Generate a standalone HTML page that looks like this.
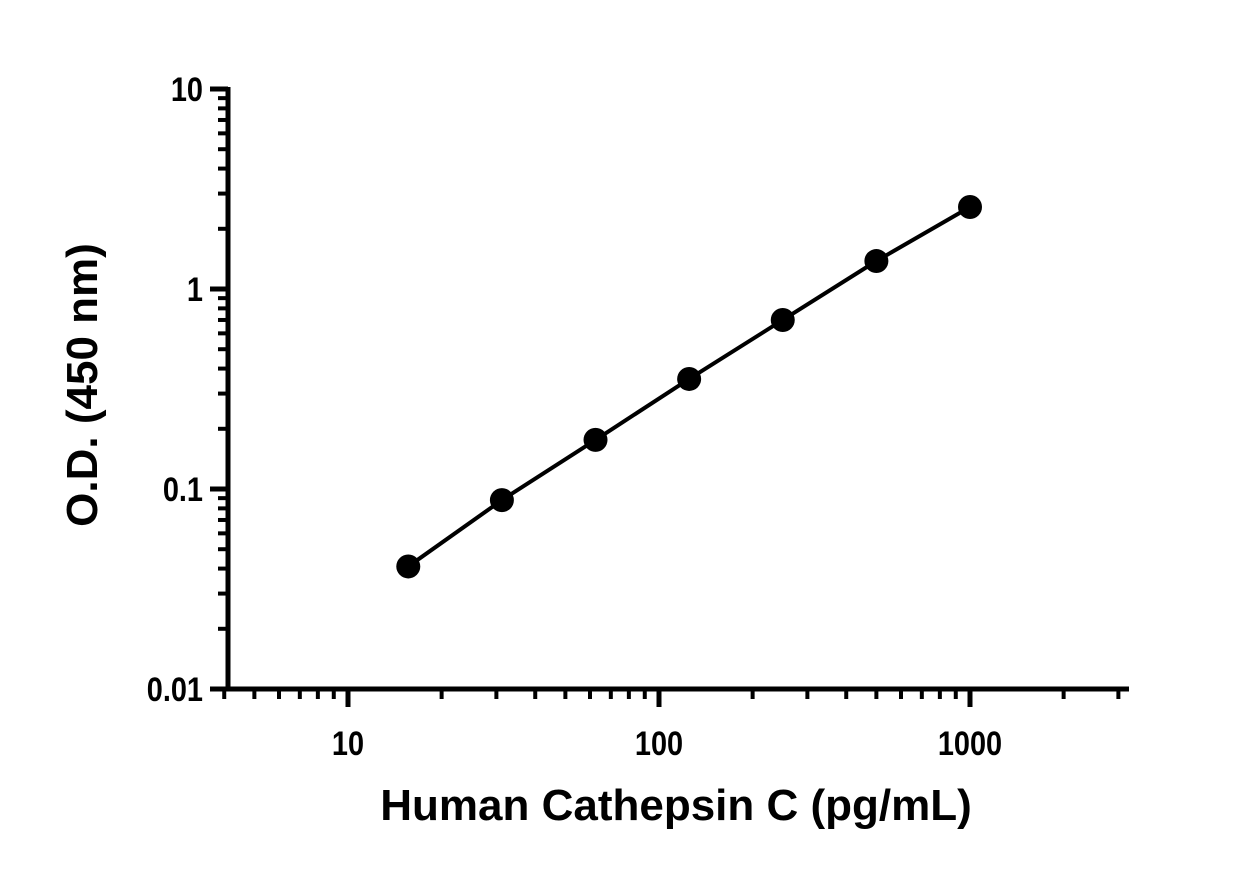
<!DOCTYPE html>
<html><head><meta charset="utf-8"><style>body{margin:0;background:#fff}svg{display:block}text{font-family:"Liberation Sans",sans-serif;font-weight:bold;fill:#000}</style></head>
<body>
<svg id="chart" width="1251" height="870" viewBox="0 0 1251 870" xmlns="http://www.w3.org/2000/svg"></svg>
<script>
const concentrations=[15.625,31.25,62.5,125,250,500,1000];
const odValues=[0.041,0.088,0.176,0.355,0.70,1.38,2.57];
const xTickLabels=[10,100,1000];
const yTickLabels=[0.01,0.1,1,10];
const NS="http://www.w3.org/2000/svg";
const svg=document.getElementById('chart');
function xs(v){return 348+(Math.log10(v)-1)*311;}
function ys(v){return 689-(Math.log10(v)+2)*200;}
function mk(t,a,p){const e=document.createElementNS(NS,t);for(const k in a)e.setAttribute(k,a[k]);(p||svg).appendChild(e);return e;}
const axes=mk('g',{});


const ya=mk('line',{x1:228,y1:87,x2:228,y2:691,stroke:'#000','stroke-width':5},axes);


const xa=mk('line',{x1:226,y1:689,x2:1129,y2:689,stroke:'#000','stroke-width':5},axes);


// y ticks
for(let d=-2;d<=1;d++){
  const base=Math.pow(10,d);
  const t=mk('line',{x1:210,x2:228,y1:ys(base),y2:ys(base),stroke:'#000','stroke-width':5},axes);
  
  
  if(d<1)for(let m=2;m<=9;m++){
    const mt=mk('line',{x1:218,x2:228,y1:ys(base*m),y2:ys(base*m),stroke:'#000','stroke-width':4},axes);
    
    
  }
}
yTickLabels.forEach(v=>{
  const t=mk('text',{x:203,y:ys(v)+12,'text-anchor':'end','font-size':34,transform:`scale(0.85,1)`},axes);
  t.setAttribute('x',203/0.85);
  t.textContent=String(v);
  
  
});
// x ticks
[4,5,6,7,8,9,20,30,40,50,60,70,80,90,200,300,400,500,600,700,800,900,2000,3000].forEach(v=>{
  const t=mk('line',{x1:xs(v),x2:xs(v),y1:689,y2:699,stroke:'#000','stroke-width':4},axes);
  
  
});
xTickLabels.forEach(v=>{
  const t=mk('line',{x1:xs(v),x2:xs(v),y1:689,y2:707,stroke:'#000','stroke-width':5},axes);
  
  
  const l=mk('text',{x:xs(v)/0.85,y:755,'text-anchor':'middle','font-size':34,transform:'scale(0.85,1)'},axes);
  l.textContent=String(v);
  
  
});
const xt=mk('text',{x:676,y:820,'text-anchor':'middle','font-size':44});
xt.textContent='Human Cathepsin C (pg/mL)';


const yt=mk('text',{x:0,y:0,'text-anchor':'middle','font-size':44,transform:'translate(97,385) rotate(-90)'});
yt.textContent='O.D. (450 nm)';


const line=mk('polyline',{points:concentrations.map((c,i)=>xs(c)+','+ys(odValues[i])).join(' '),fill:'none',stroke:'#000','stroke-width':4});


concentrations.forEach((c,i)=>{
  const p=mk('circle',{cx:xs(c),cy:ys(odValues[i]),r:12,fill:'#000'});
  
  
});
</script>
</body></html>
